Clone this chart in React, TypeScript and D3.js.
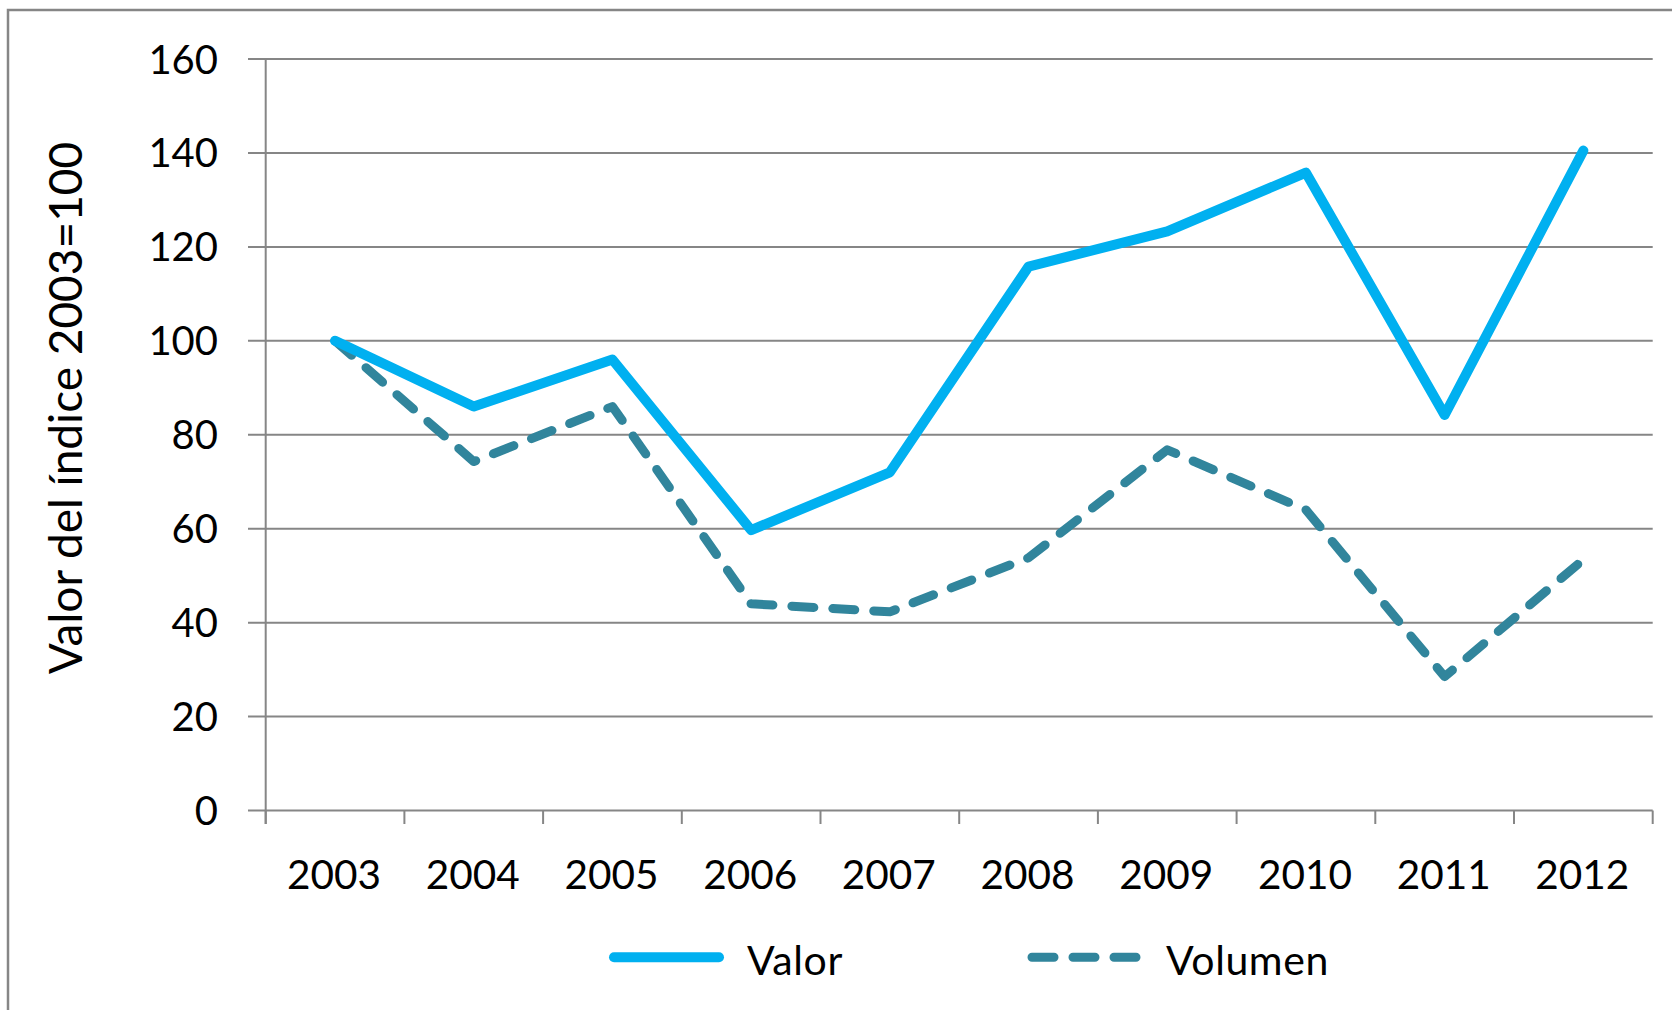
import React, { useEffect, useRef } from "react";
import * as d3 from "d3";

const years = ["2003", "2004", "2005", "2006", "2007", "2008", "2009", "2010", "2011", "2012"];
const valor = [100, 86, 96, 59.7, 72, 115.8, 123.3, 135.8, 84.2, 140.5];
const volumen = [100, 74.3, 86, 44, 42.3, 53.8, 76.8, 64, 28.5, 53.4];
const yTicks = [0, 20, 40, 60, 80, 100, 120, 140, 160];

const legendItems = [
  { title: "Valor", color: "#00B0F0", dash: null, x: 609, textX: 747 },
  { title: "Volumen", color: "#31859C", dash: "22 19", x: 1027, textX: 1166 },
];

const width = 1672;
const height = 1010;
const gridColor = "#868686";
const font = "Lato, 'Open Sans', sans-serif";

const App = () => {
  const chart = useRef<SVGSVGElement>(null);

  useEffect(() => {
    const svg = d3.select(chart.current);
    svg.selectAll("*").remove();

    const x = d3.scaleBand<string>().domain(years).range([265.7, 1652.7]);
    const y = d3.scaleLinear().domain([0, 160]).range([810.5, 59]);
    const cx = (d: string) => (x(d) as number) + x.bandwidth() / 2;

    // outer frame (cut off at right and bottom)
    svg
      .append("rect")
      .attr("x", 8)
      .attr("y", 10)
      .attr("width", 1800)
      .attr("height", 1200)
      .attr("fill", "none")
      .attr("stroke", gridColor)
      .attr("stroke-width", 2.5);

    // horizontal gridlines
    svg
      .append("g")
      .selectAll("line")
      .data(yTicks)
      .join("line")
      .attr("x1", 248)
      .attr("x2", 1652.7)
      .attr("y1", (d) => y(d))
      .attr("y2", (d) => y(d))
      .attr("stroke", gridColor)
      .attr("stroke-width", 2);

    // y axis line
    svg
      .append("line")
      .attr("x1", 265.7)
      .attr("x2", 265.7)
      .attr("y1", y(160))
      .attr("y2", 824)
      .attr("stroke", gridColor)
      .attr("stroke-width", 2);

    // x ticks at category boundaries
    const edges = years.map((d) => x(d) as number).concat([x.range()[1]]);
    svg
      .append("g")
      .selectAll("line")
      .data(edges)
      .join("line")
      .attr("x1", (d) => d)
      .attr("x2", (d) => d)
      .attr("y1", y(0))
      .attr("y2", 824)
      .attr("stroke", gridColor)
      .attr("stroke-width", 2);

    // y tick labels
    svg
      .append("g")
      .selectAll("text")
      .data(yTicks)
      .join("text")
      .attr("x", 218)
      .attr("y", (d) => y(d) + 14.5)
      .attr("text-anchor", "end")
      .attr("font-family", font)
      .attr("font-size", 40)
      .attr("fill", "#000")
      .text((d) => d);

    // x tick labels
    svg
      .append("g")
      .selectAll("text")
      .data(years)
      .join("text")
      .attr("x", (d) => cx(d) - 1)
      .attr("y", 889)
      .attr("text-anchor", "middle")
      .attr("font-family", font)
      .attr("font-size", 40.5)
      .attr("fill", "#000")
      .text((d) => d);

    // y axis title
    svg
      .append("text")
      .attr("transform", "translate(82,408) rotate(-90)")
      .attr("text-anchor", "middle")
      .attr("font-family", font)
      .attr("font-size", 46)
      .attr("fill", "#000")
      .text("Valor del índice 2003=100");

    const line = d3
      .line<number>()
      .x((d, i) => cx(years[i]))
      .y((d) => y(d));

    // volumen (dashed)
    svg
      .append("path")
      .datum(volumen)
      .attr("d", line)
      .attr("fill", "none")
      .attr("stroke", "#31859C")
      .attr("stroke-width", 9)
      .attr("stroke-dasharray", "22 19")
      .attr("stroke-linecap", "round")
      .attr("stroke-linejoin", "round");

    // valor (solid)
    svg
      .append("path")
      .datum(valor)
      .attr("d", line)
      .attr("fill", "none")
      .attr("stroke", "#00B0F0")
      .attr("stroke-width", 10)
      .attr("stroke-linecap", "round")
      .attr("stroke-linejoin", "round");

    // legend
    const legend = svg.append("g").selectAll("g").data(legendItems).join("g");

    legend
      .append("line")
      .attr("x1", (d) => d.x + 5)
      .attr("x2", (d) => d.x + 110)
      .attr("y1", 957.3)
      .attr("y2", 957.3)
      .attr("stroke", (d) => d.color)
      .attr("stroke-width", (d) => (d.dash ? 9 : 10))
      .attr("stroke-dasharray", (d) => d.dash)
      .attr("stroke-linecap", "round");

    legend
      .append("text")
      .attr("x", (d) => d.textX)
      .attr("y", 975)
      .attr("font-family", font)
      .attr("font-size", 41)
      .attr("letter-spacing", 0.6)
      .attr("fill", "#000")
      .text((d) => d.title);
  }, []);

  return (
    <>
      <style>{`html,body{margin:0;overflow:hidden;background:#fff}`}</style>
      <svg
        ref={chart}
        width={width}
        height={height}
        viewBox={`0 0 ${width} ${height}`}
        style={{ display: "block" }}></svg>
    </>
  );
};

export default App;
